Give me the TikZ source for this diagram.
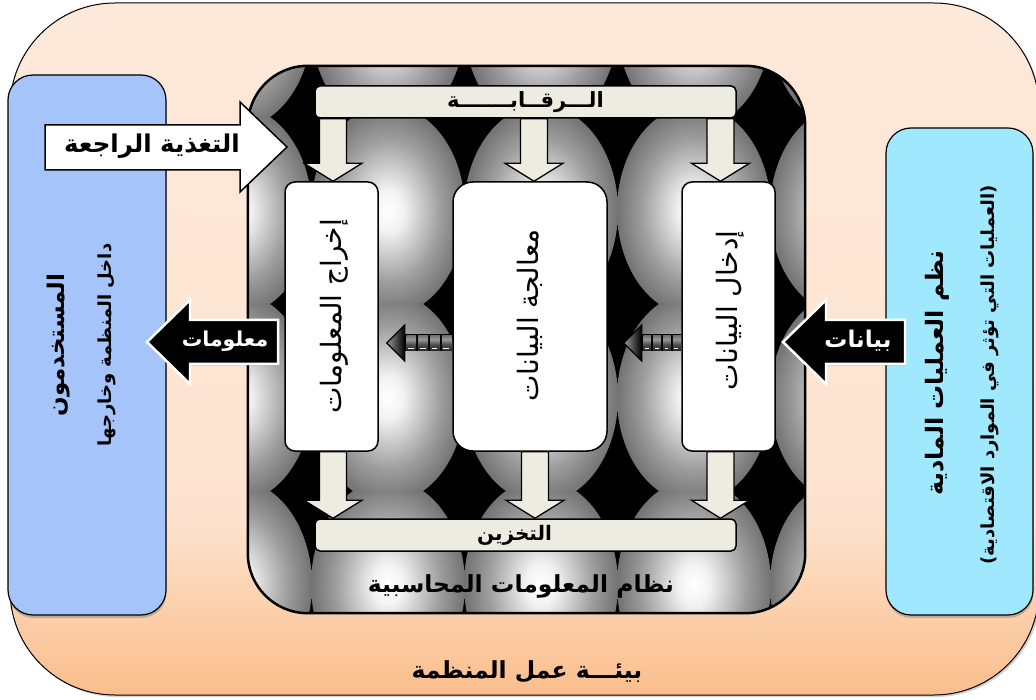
\documentclass[tikz,border=0pt]{standalone}
\usepackage{fontspec}
\usetikzlibrary{calc,shadows}
\newfontfamily\arabicfont[Script=Arabic]{DejaVu Sans}
\TeXXeTstate=1
\newcommand\rtltext[1]{\beginR#1\endR}

\definecolor{envtop}{RGB}{253,233,218}
\definecolor{envmid}{RGB}{253,227,207}
\definecolor{envbot}{RGB}{250,190,140}
\definecolor{userblue}{RGB}{165,196,250}
\definecolor{opscyan}{RGB}{160,232,254}
\definecolor{barfill}{RGB}{238,236,225}

\pgfdeclareverticalshading{envshade}{100bp}{color(0bp)=(envbot); color(25bp)=(envbot); color(38bp)=(envmid); color(75bp)=(envtop); color(100bp)=(envtop)}
\pgfdeclareradialshading{sphere}{\pgfpoint{0bp}{0bp}}{color(0bp)=(white); color(5bp)=(white!95!black); color(17bp)=(black!38); color(25bp)=(black!55); color(50bp)=(black!55)}
\pgfdeclareverticalshading{bead}{100bp}{color(0bp)=(black); color(25bp)=(black!85); color(45bp)=(black!70); color(62bp)=(black!40); color(75bp)=(black!55); color(100bp)=(black!55)}

% block arrow pointing down: #1 start anchor (its height is used), #2 tip point, #3 horizontal shift
\newcommand\downblock[3]{%
  \draw[blockarrow] let \p1=(#1), \p2=(#2) in
    (\x2+#3-13.5pt,\y1) -- (\x2+#3-13.5pt,\y2+18pt) -- (\x2+#3-29pt,\y2+18pt) -- (\x2+#3,\y2)
    -- (\x2+#3+29pt,\y2+18pt) -- (\x2+#3+13.5pt,\y2+18pt) -- (\x2+#3+13.5pt,\y1) -- cycle;}

% striped arrow pointing left: #1 tail point, #2 tip point
\newcommand\stripearrow[2]{%
  \fill[black] let \p1=(#1), \p2=(#2) in (\x2+17pt,\y2+8.5pt) rectangle (\x1,\y2-8.5pt);
  \foreach \k in {0,1,2,3}{
    \shade[shading=bead] let \p1=(#1), \p2=(#2), \n1={(\x1-\x2-18pt)/4} in
      (\x2+18pt+\k*\n1+1.5pt,\y2+7.5pt) rectangle (\x2+18pt+\k*\n1+\n1-0.5pt,\y2-7.5pt);
    \fill[white] let \p1=(#1), \p2=(#2), \n1={(\x1-\x2-18pt)/4} in
      (\x2+18pt+\k*\n1+3pt,\y2-5pt) rectangle (\x2+18pt+\k*\n1+\n1-3pt,\y2-6.5pt);
  }
  \shade[left color=black!40, right color=black, draw=black, line width=1.2pt, line join=miter] let \p2=(#2) in
    (\x2,\y2) -- (\x2+18pt,\y2+18pt) -- (\x2+18pt,\y2-18pt) -- cycle;}

\tikzset{
  arfont/.style={font=\arabicfont\fontsize{#1}{#1}\selectfont},
  arbold/.style={font=\arabicfont\bfseries\fontsize{#1}{#1}\selectfont},
  envbox/.style={draw=black, line width=1pt, rounded corners=105pt, shading=envshade,
    minimum width=1029pt, minimum height=692pt, inner sep=0pt,
    drop shadow={shadow xshift=2pt, shadow yshift=-2pt, opacity=0.35}},
  sidebox/.style={draw=black, line width=1.2pt, rounded corners=25pt, inner sep=0pt,
    drop shadow={shadow xshift=0.5pt, shadow yshift=-3pt, opacity=0.45}},
  flowbar/.style={draw=black, line width=1.5pt, fill=barfill, rounded corners=5pt,
    minimum width=421pt, minimum height=32pt, inner sep=0pt},
  stagebox/.style={draw=black, line width=1.5pt, fill=white, minimum height=269pt, inner sep=0pt},
  blockarrow/.style={draw=black, line width=1.3pt, fill=barfill, line join=miter},
  tagarrow/.style={fill=black, draw=white, line width=2.5pt, line join=miter,
    drop shadow={shadow xshift=1pt, shadow yshift=-1.5pt, opacity=0.5}},
}

\begin{document}
\begin{tikzpicture}[x=1pt, y=-1pt]
\useasboundingbox (0,0) rectangle (1036,700);

% business environment
\node[envbox] (env) at (524.5,349) {};

% users and physical operations
\node[sidebox, fill=userblue, minimum width=158pt, minimum height=540pt] (users) at (87,345) {};
\node[sidebox, fill=opscyan, minimum width=147pt, minimum height=487pt] (ops) at (959.5,371.5) {};

% accounting information system
\node[fill=black, rounded corners=60pt, minimum width=557pt, minimum height=547pt, inner sep=0pt] (ais) at (526.5,339.5) {};
\begin{scope}
  \clip[rounded corners=60pt] (ais.south west) rectangle (ais.north east);
  \foreach \cx in {235,388,541,694,847} {
    \foreach \cy in {23.5,210.5,397.5,584.5} {
      \begin{scope}
        \clip (\cx-76.5,\cy-93.5) rectangle (\cx+76.5,\cy+93.5);
        \shade[shading=sphere] (\cx,\cy) ellipse [x radius=77pt, y radius=105pt];
      \end{scope}
    }
  }
\end{scope}
\draw[line width=2.5pt, rounded corners=60pt] (ais.south west) rectangle (ais.north east);

% control and storage bars
\node[flowbar] (ctrl) at (525.5,102) {};
\node[flowbar] (store) at (525.5,535) {};

% processing stages
\node[stagebox, rounded corners=10pt, minimum width=93pt] (out) at (331.5,316.5) {};
\node[stagebox, rounded corners=20pt, minimum width=154pt] (mid) at (530,316.5) {};
\node[stagebox, rounded corners=10pt, minimum width=93pt] (in) at (728.5,316.5) {};

% control flows into each stage, each stage feeds storage
\downblock{ctrl.south}{out.north}{1.5pt}
\downblock{ctrl.south}{mid.north}{4pt}
\downblock{ctrl.south}{in.north}{-8pt}
\downblock{out.south}{store.north -| out.south}{1.5pt}
\downblock{mid.south}{store.north -| mid.south}{5pt}
\downblock{in.south}{store.north -| in.south}{-8pt}

% data moving between stages
\coordinate (s1tail) at ($(mid.west)+(0,26.5)$);
\coordinate (s1tip) at ($(out.east)+(8,26.5)$);
\coordinate (s2tail) at ($(in.west)+(0,26.5)$);
\coordinate (s2tip) at ($(mid.east)+(16,26.5)$);
\stripearrow{s1tail}{s1tip}
\stripearrow{s2tail}{s2tip}

% labels of the bars and stages
\node[arbold=21] (ctrltext) at (ctrl.center) {\rtltext{الـــرقــابـــــــة}};
\node[arbold=20] (storetext) at ([xshift=-11pt]store.center) {\rtltext{التخزين}};
\node[arfont=28, rotate=90] (outtext) at ([xshift=3pt]out.center) {\rtltext{إخراج المعلومات}};
\node[arfont=28, rotate=90] (midtext) at ([yshift=1pt]mid.center) {\rtltext{معالجة البيانات}};
\node[arfont=28, rotate=90] (intext) at ([xshift=2pt,yshift=6pt]in.center) {\rtltext{إدخال البيانات}};
\node[arbold=23.5] (systext) at (521,586) {\rtltext{نظام المعلومات المحاسبية}};

% feedback arrow
\draw[draw=black, fill=white, line width=1.5pt, line join=miter]
  (45,125) -- (240,125) -- (240,102) -- (287,147) -- (240,192) -- (240,170) -- (45,170) -- cycle;
\node[arbold=24.5] (fbtext) at (152,146) {\rtltext{التغذية الراجعة}};

% information to users, data from operations
\draw[tagarrow] (278,320) -- (190,320) -- (190,300) -- (147,342) -- (190,384) -- (190,364) -- (278,364) -- cycle;
\node[arbold=20.5, text=white] (infotext) at (225,341) {\rtltext{معلومات}};
\draw[tagarrow] (905,320) -- (826,320) -- (826,300) -- (783,342) -- (826,384) -- (826,364) -- (905,364) -- cycle;
\node[arbold=23, text=white] (datatext) at (858,341) {\rtltext{بيانات}};

% side texts
\node[arbold=23, rotate=90] (usertitle) at (59,345) {\rtltext{المستخدمون}};
\node[arbold=18, rotate=90] (usersub) at (107,345) {\rtltext{داخل المنظمة وخارجها}};
\node[arbold=24, rotate=90] (opstitle) at (937,373) {\rtltext{نظم العمليات المادية}};
\node[arbold=18, rotate=90] (opssub) at (990,375) {\rtltext{(العمليات التي تؤثر في الموارد الاقتصادية)}};

% environment label
\node[arbold=23.5] (envtext) at (527,672) {\rtltext{بيئـــة عمل المنظمة}};
\end{tikzpicture}
\end{document}
